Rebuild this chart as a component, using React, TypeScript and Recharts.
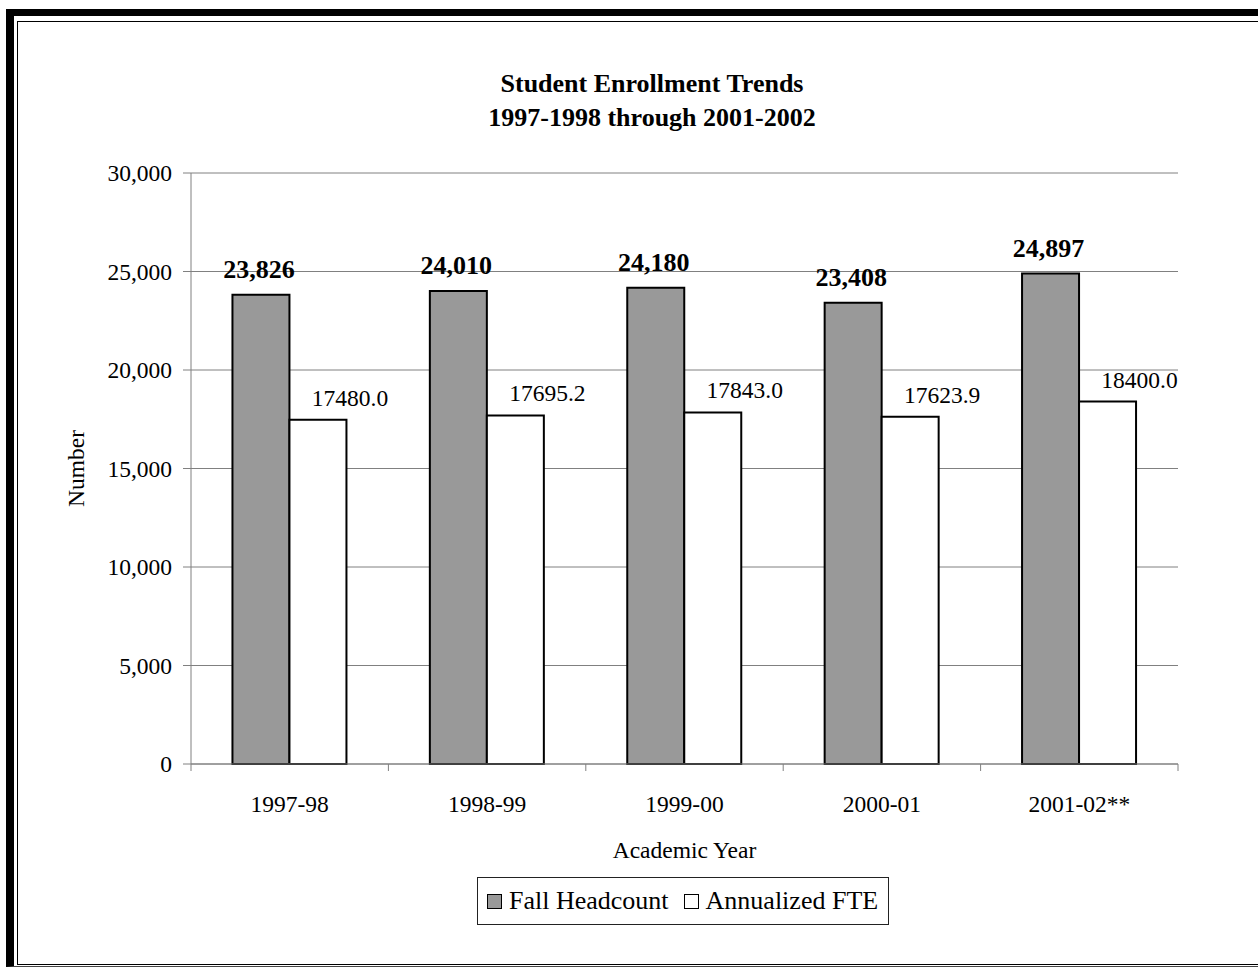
import React from "react";
import {
  BarChart,
  Bar,
  XAxis,
  YAxis,
  CartesianGrid,
  LabelList,
} from "recharts";

// chart values
const CATEGORIES = ["1997-98", "1998-99", "1999-00", "2000-01", "2001-02**"];
const HEADCOUNT = [23826, 24010, 24180, 23408, 24897];
const FTE = [17480.0, 17695.2, 17843.0, 17623.9, 18400.0];
const Y_TICKS = [0, 5000, 10000, 15000, 20000, 25000, 30000];
const TITLE = ["Student Enrollment Trends", "1997-1998 through 2001-2002"];
const SERIES_NAMES = ["Fall Headcount", "Annualized FTE"];

const FONT = '"Liberation Serif", "Times New Roman", serif';
const W = 1258;
const H = 970;
const PLOT_LEFT = 191;
const PLOT_RIGHT = 1178;
const PLOT_TOP = 173;
const PLOT_BOTTOM = 764;
const Y_AXIS_W = 130;
const X_AXIS_H = 100;
const GRID = "#808080";

const data = CATEGORIES.map((year, i) => ({
  year,
  headcount: HEADCOUNT[i],
  fte: FTE[i],
}));

const band = (PLOT_RIGHT - PLOT_LEFT) / CATEGORIES.length;

// category label plus Excel-style tick marks between categories
const YearTick = (props: any) => {
  const { x, y, payload, index } = props;
  const last = index === CATEGORIES.length - 1;
  return (
    <g>
      <line x1={x - band / 2} x2={x - band / 2} y1={y} y2={y + 7} stroke={GRID} />
      {last && (
        <line x1={x + band / 2} x2={x + band / 2} y1={y} y2={y + 7} stroke={GRID} />
      )}
      <text
        x={x}
        y={y + 48}
        textAnchor="middle"
        fontSize={23.5}
        fontFamily={FONT}
        fill="#000"
      >
        {payload.value}
      </text>
    </g>
  );
};

const HeadcountLabel = (props: any) => {
  const { x, y, width, value } = props;
  return (
    <text
      x={x + width / 2 - 2}
      y={y - 17}
      textAnchor="middle"
      fontSize={26}
      fontWeight="bold"
      fontFamily={FONT}
      fill="#000"
    >
      {Number(value).toLocaleString("en-US")}
    </text>
  );
};

const FteLabel = (props: any) => {
  const { x, y, width, value } = props;
  return (
    <text
      x={x + width / 2 + 32}
      y={y - 14}
      textAnchor="middle"
      fontSize={23.5}
      fontFamily={FONT}
      fill="#000"
    >
      {Number(value).toFixed(1)}
    </text>
  );
};

const NumberLabel = (props: any) => {
  const cy = (PLOT_TOP + PLOT_BOTTOM) / 2;
  const cx = 76;
  return (
    <text
      x={cx}
      y={cy}
      textAnchor="middle"
      dominantBaseline="central"
      transform={`rotate(-90, ${cx}, ${cy})`}
      fontSize={23.5}
      fontFamily={FONT}
      fill="#000"
    >
      Number
    </text>
  );
};

const swatch = (fill: string) => ({
  width: 15,
  height: 15,
  background: fill,
  border: "1.5px solid #000",
  boxSizing: "border-box" as const,
});

export default function App() {
  return (
    <div style={{ fontFamily: FONT }}>
      {/* outer frame: heavy left/top rule, thin inner box */}
      <div
        style={{
          position: "absolute",
          left: 6,
          top: 9,
          width: W - 6,
          height: 958,
          borderLeft: "8px solid #000",
          borderTop: "7px solid #000",
          borderBottom: "1px solid #444",
          boxSizing: "border-box",
        }}
      />
      <div
        style={{
          position: "absolute",
          left: 17,
          top: 21,
          width: W - 17,
          height: 944,
          borderLeft: "1px solid #000",
          borderTop: "1px solid #000",
          borderBottom: "1px solid #000",
          boxSizing: "border-box",
        }}
      />

      <div
        style={{
          position: "absolute",
          left: 452,
          top: 67,
          width: 400,
          textAlign: "center",
          fontSize: 26,
          lineHeight: "34px",
          fontWeight: "bold",
          color: "#000",
        }}
      >
        {TITLE.map((t) => (
          <div key={t}>{t}</div>
        ))}
      </div>

      <div style={{ position: "absolute", left: 0, top: 0 }}>
        <BarChart
          width={W}
          height={H}
          data={data}
          margin={{
            top: PLOT_TOP,
            right: W - PLOT_RIGHT,
            bottom: H - PLOT_BOTTOM - X_AXIS_H,
            left: PLOT_LEFT - Y_AXIS_W,
          }}
          barCategoryGap="21%"
          barGap={0}
        >
          <CartesianGrid vertical={false} stroke={GRID} />
          <XAxis
            dataKey="year"
            height={X_AXIS_H}
            interval={0}
            tickLine={false}
            tickSize={0}
            tickMargin={0}
            axisLine={{ stroke: GRID }}
            tick={<YearTick />}
            label={{
              value: "Academic Year",
              position: "insideBottom",
              offset: 6,
              fontSize: 23.5,
              fontFamily: FONT,
              fill: "#000",
            }}
          />
          <YAxis
            width={Y_AXIS_W}
            domain={[0, 30000]}
            ticks={Y_TICKS}
            interval={0}
            tickSize={8}
            tickMargin={11}
            axisLine={{ stroke: GRID }}
            tickLine={{ stroke: GRID }}
            tick={{ fill: "#000", fontSize: 23.5, fontFamily: FONT }}
            tickFormatter={(v: number) => v.toLocaleString("en-US")}
            label={{ content: <NumberLabel /> }}
          />
          <Bar
            dataKey="headcount"
            name={SERIES_NAMES[0]}
            fill="#999999"
            stroke="#000"
            strokeWidth={2}
            isAnimationActive={false}
          >
            <LabelList dataKey="headcount" content={<HeadcountLabel />} />
          </Bar>
          <Bar
            dataKey="fte"
            name={SERIES_NAMES[1]}
            fill="#ffffff"
            stroke="#000"
            strokeWidth={2}
            isAnimationActive={false}
          >
            <LabelList dataKey="fte" content={<FteLabel />} />
          </Bar>
        </BarChart>
      </div>

      {/* legend */}
      <div
        style={{
          position: "absolute",
          left: 477,
          top: 877,
          width: 412,
          height: 48,
          border: "1px solid #222",
          boxSizing: "border-box",
          display: "flex",
          alignItems: "center",
          paddingLeft: 9,
          fontSize: 26,
          color: "#000",
          whiteSpace: "nowrap",
        }}
      >
        <div style={swatch("#999999")} />
        <span style={{ marginLeft: 7 }}>{SERIES_NAMES[0]}</span>
        <div style={{ ...swatch("#ffffff"), marginLeft: 15 }} />
        <span style={{ marginLeft: 7 }}>{SERIES_NAMES[1]}</span>
      </div>
    </div>
  );
}
